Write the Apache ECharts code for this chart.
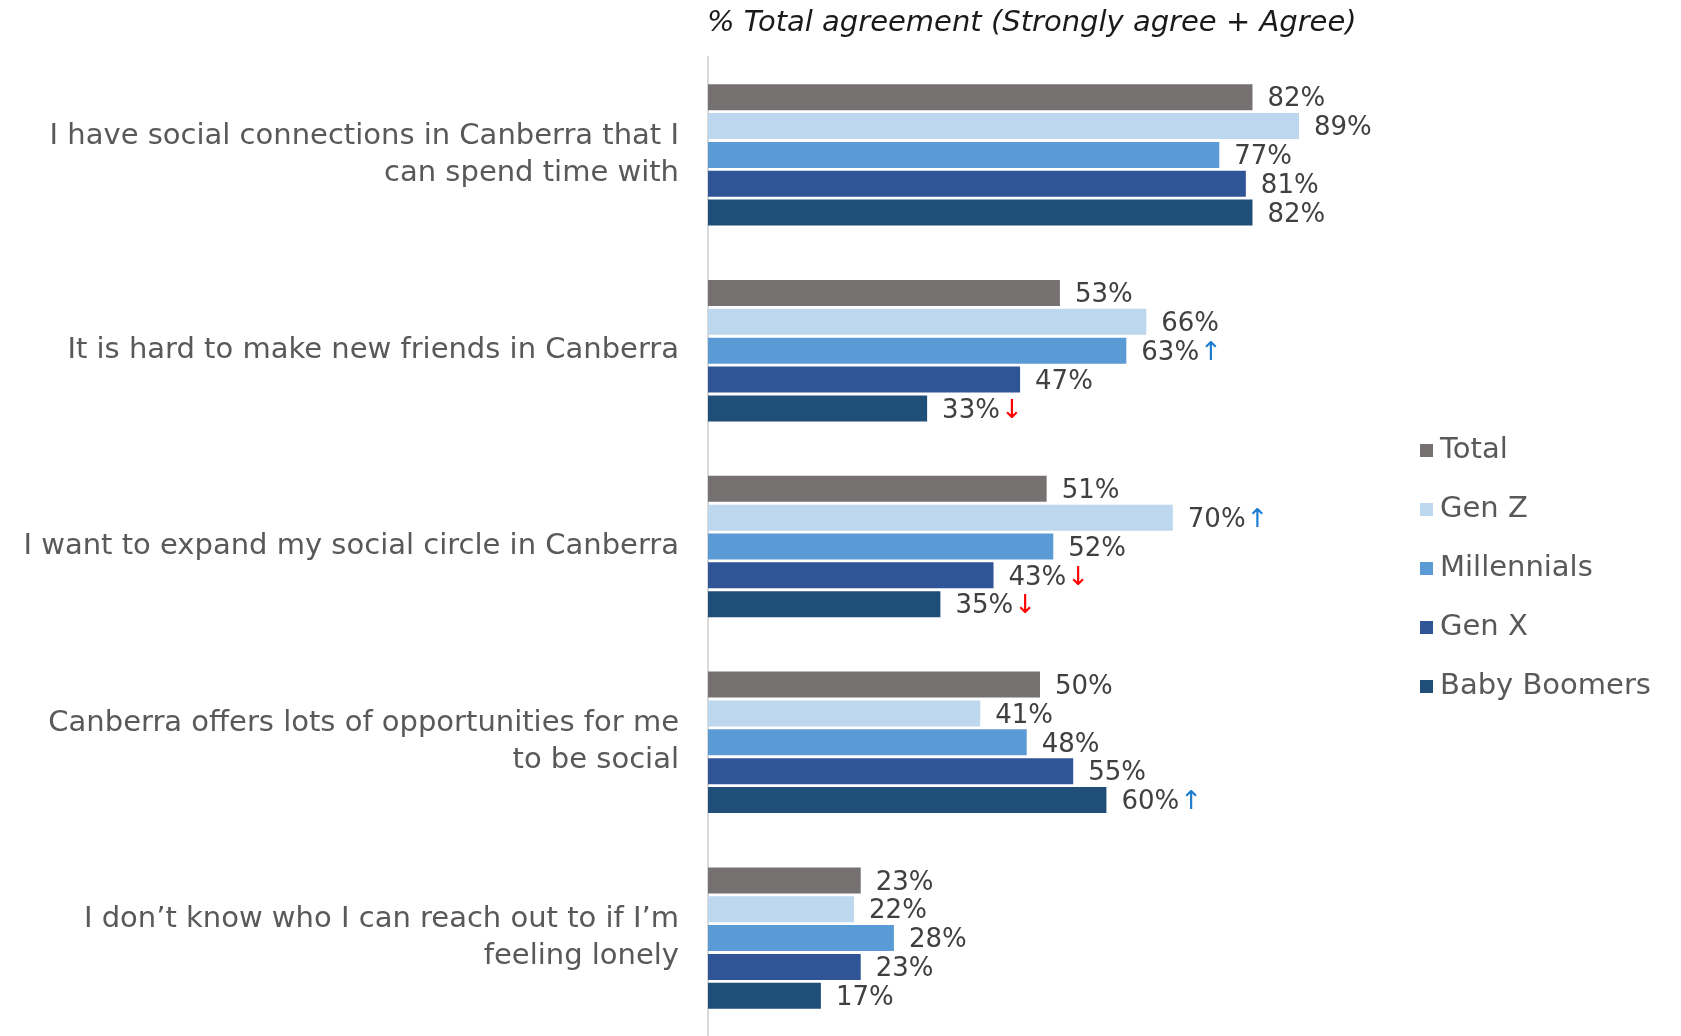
<!DOCTYPE html>
<html>
<head>
<meta charset="utf-8">
<script src="https://cdn.jsdelivr.net/npm/echarts@6/dist/echarts.min.js"></script>
<style>
  html, body { margin: 0; padding: 0; background: #fff; }
  #chart { width: 1681px; height: 1036px; }
</style>
</head>
<body>
<div id="chart"></div>
<script>
var categories = [
  "I have social connections in Canberra that I\ncan spend time with",
  "It is hard to make new friends in Canberra",
  "I want to expand my social circle in Canberra",
  "Canberra offers lots of opportunities for me\nto be social",
  "I don\u2019t know who I can reach out to if I\u2019m\nfeeling lonely"
];
var seriesNames = ["Total", "Gen Z", "Millennials", "Gen X", "Baby Boomers"];
var totalValues = [82, 53, 51, 50, 23];
var genZValues = [89, 66, 70, 41, 22];
var millennialValues = [77, 63, 52, 48, 28];
var genXValues = [81, 47, 43, 55, 23];
var boomerValues = [82, 33, 35, 60, 17];
// significance arrows next to the labels
var totalFlags = ["", "", "", "", ""];
var genZFlags = ["", "", "up", "", ""];
var millennialFlags = ["", "up", "", "", ""];
var genXFlags = ["", "", "down", "", ""];
var boomerFlags = ["", "down", "down", "up", ""];

var colors = ["#767171", "#bdd7ee", "#5b9bd5", "#2f5597", "#1f4e79"];
var fontFamily = "'DejaVu Sans', sans-serif";

function makeSeries(name, values, flags, color) {
  return {
    name: name,
    type: "bar",
    barWidth: 26,
    barGap: "11%",
    color: color,
    data: values,
    label: {
      show: true,
      position: "right",
      distance: 15,
      formatter: function (p) {
        var f = flags[p.dataIndex];
        var s = "{v|" + p.value + "%}";
        if (f == "up") s += "{up|\u2191}";
        if (f == "down") s += "{down|\u2193}";
        return s;
      },
      rich: {
        v: { fontSize: 26, color: "#404040", fontFamily: fontFamily, padding: [5, 0, 0, 0] },
        up: { fontSize: 26, color: "#1a7dd0", fontFamily: "'DejaVu Sans'", padding: [5, 0, 0, 1] },
        down: { fontSize: 26, color: "#ff0000", fontFamily: "'DejaVu Sans'", padding: [5, 0, 0, 1] }
      }
    }
  };
}

var chart = echarts.init(document.getElementById("chart"));
var option = {
  animation: false,
  title: {
    text: "% Total agreement (Strongly agree + Agree)",
    left: 702,
    top: 4,
    textStyle: {
      fontFamily: fontFamily,
      fontStyle: "italic",
      fontWeight: "normal",
      fontSize: 29,
      color: "#1a1a1a"
    }
  },
  legend: {
    orient: "vertical",
    left: 1415,
    top: 431,
    itemWidth: 13,
    itemHeight: 13,
    itemGap: 30,
    icon: "rect",
    data: seriesNames,
    textStyle: { fontFamily: fontFamily, fontSize: 29, color: "#595959", padding: [0, 0, 0, 2] }
  },
  grid: {
    left: 708,
    top: 57,
    width: 664,
    height: 982
  },
  xAxis: {
    type: "value",
    min: 0,
    max: 100,
    show: false
  },
  yAxis: {
    type: "category",
    inverse: true,
    data: categories,
    axisTick: { show: false },
    axisLine: { lineStyle: { color: "#d9d9d9", width: 2 } },
    axisLabel: {
      margin: 29,
      fontFamily: fontFamily,
      fontSize: 29,
      lineHeight: 37,
      color: "#595959",
      align: "right",
      padding: [4, 0, 0, 0]
    }
  },
  series: [
    makeSeries(seriesNames[0], totalValues, totalFlags, colors[0]),
    makeSeries(seriesNames[1], genZValues, genZFlags, colors[1]),
    makeSeries(seriesNames[2], millennialValues, millennialFlags, colors[2]),
    makeSeries(seriesNames[3], genXValues, genXFlags, colors[3]),
    makeSeries(seriesNames[4], boomerValues, boomerFlags, colors[4])
  ]
};
chart.setOption(option);
</script>
</body>
</html>
